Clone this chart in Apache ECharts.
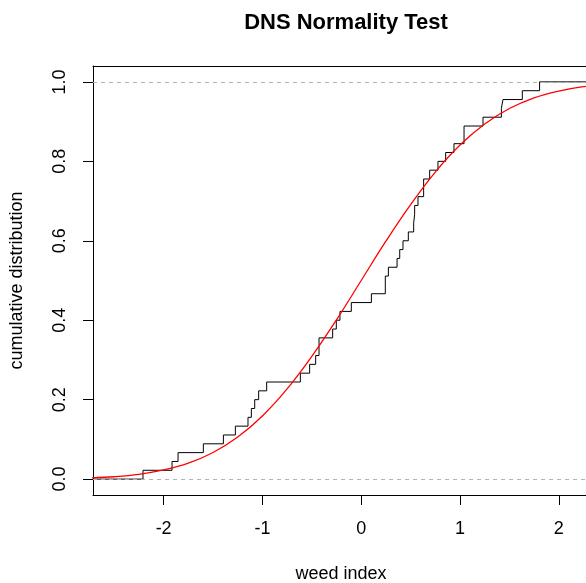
<!DOCTYPE html>
<html><head><meta charset="utf-8">
<script src="https://cdn.jsdelivr.net/npm/echarts@6/dist/echarts.min.js"></script>
<style>html,body{margin:0;padding:0;background:#fff}#c{width:586px;height:583px}</style>
</head><body><div id="c"></div>
<script>
const titleText = 'DNS Normality Test';
const xLabel = 'weed index';
const yLabel = 'cumulative distribution';
// sorted sample values (ECDF jump positions, ties repeated)
const weedIndex = [-2.209, -1.915, -1.854, -1.598, -1.395, -1.274, -1.146, -1.112, -1.078, -1.038,
  -0.957, -0.616, -0.522, -0.461, -0.427, -0.427, -0.289, -0.252, -0.215, -0.100,
  0.103, 0.244, 0.244, 0.275, 0.363, 0.390, 0.423, 0.477, 0.531, 0.541,
  0.541, 0.575, 0.632, 0.632, 0.693, 0.777, 0.855, 0.939, 1.041, 1.041,
  1.233, 1.419, 1.435, 1.631, 1.806];
// red reference curve
const curveX = [-2.75, -2.5, -2.25, -2.0, -1.75, -1.5, -1.25, -1.0, -0.75, -0.5, -0.25, 0, 0.25, 0.5, 0.75, 1.0, 1.25, 1.5, 1.75, 2.0, 2.25, 2.5];
const curveY = [0.003, 0.006, 0.012, 0.023, 0.040, 0.067, 0.106, 0.159, 0.227, 0.309, 0.401, 0.500, 0.599, 0.691, 0.773, 0.841, 0.894, 0.933, 0.960, 0.977, 0.988, 0.994];
const xTicks = [-2, -1, 0, 1, 2];
const yTicks = [0, 0.2, 0.4, 0.6, 0.8, 1.0];
const xRange = [-2.715, 2.306];
const yRange = [-0.04, 1.04];
const refLevels = [0, 1];

const n = weedIndex.length;
const ecdf = [[xRange[0], 0]];
weedIndex.forEach((v, i) => ecdf.push([v, (i + 1) / n]));
ecdf.push([xRange[1], 1]);
const curve = curveX.map((x, i) => [x, curveY[i]]);

const FONT = "'Liberation Sans', Arial, sans-serif";
const chart = echarts.init(document.getElementById('c'), null, {renderer: 'canvas'});
chart.setOption({
  backgroundColor: '#fff',
  animation: false,
  title: {
    text: titleText, left: 341, top: 7, textAlign: 'center',
    textStyle: {fontFamily: FONT, fontWeight: 'bold', fontSize: 22, color: '#000'}
  },
  grid: {left: 93, top: 66, width: 496, height: 429, containLabel: false, outerBoundsMode: 'none'},
  xAxis: [{
    type: 'value', min: xRange[0], max: xRange[1], position: 'bottom',
    name: xLabel, nameLocation: 'middle', nameGap: 70,
    nameTextStyle: {fontFamily: FONT, fontSize: 18, color: '#000'},
    axisLine: {show: true, onZero: false, lineStyle: {color: '#000', width: 1}},
    axisTick: {show: true, length: 10, inside: false, customValues: xTicks, lineStyle: {color: '#000'}},
    axisLabel: {show: true, margin: 25, customValues: xTicks, fontFamily: FONT, fontSize: 18, color: '#000'},
    splitLine: {show: false}
  }, {
    type: 'value', min: xRange[0], max: xRange[1], position: 'top',
    axisLine: {show: true, onZero: false, lineStyle: {color: '#000', width: 1}},
    axisTick: {show: false}, axisLabel: {show: false}, splitLine: {show: false}
  }],
  yAxis: {
    type: 'value', min: yRange[0], max: yRange[1], position: 'left',
    name: yLabel, nameLocation: 'middle', nameGap: 67, nameRotate: 90,
    nameTextStyle: {fontFamily: FONT, fontSize: 18, color: '#000'},
    axisLine: {show: true, onZero: false, lineStyle: {color: '#000', width: 1}},
    axisTick: {show: true, length: 10, inside: false, customValues: yTicks, lineStyle: {color: '#000'}},
    axisLabel: {show: true, margin: 24, rotate: 90, customValues: yTicks,
      formatter: v => Number(v).toFixed(1), fontFamily: FONT, fontSize: 18, color: '#000'},
    splitLine: {show: false}
  },
  series: [{
    type: 'line', step: 'end', data: ecdf, showSymbol: false, symbol: 'none',
    lineStyle: {color: '#000', width: 1}, z: 2, clip: true
  }, {
    type: 'line', data: [], symbol: 'none', z: 3,
    markLine: {
      silent: true, symbol: 'none', label: {show: false},
      lineStyle: {color: '#b3b3b3', type: [4, 4], width: 1},
      data: refLevels.map(v => ({yAxis: v}))
    }
  }, {
    type: 'line', data: curve, smooth: 0.4, showSymbol: false, symbol: 'none',
    lineStyle: {color: '#ff0000', width: 1.3}, z: 4, clip: true
  }]
});
</script></body></html>
